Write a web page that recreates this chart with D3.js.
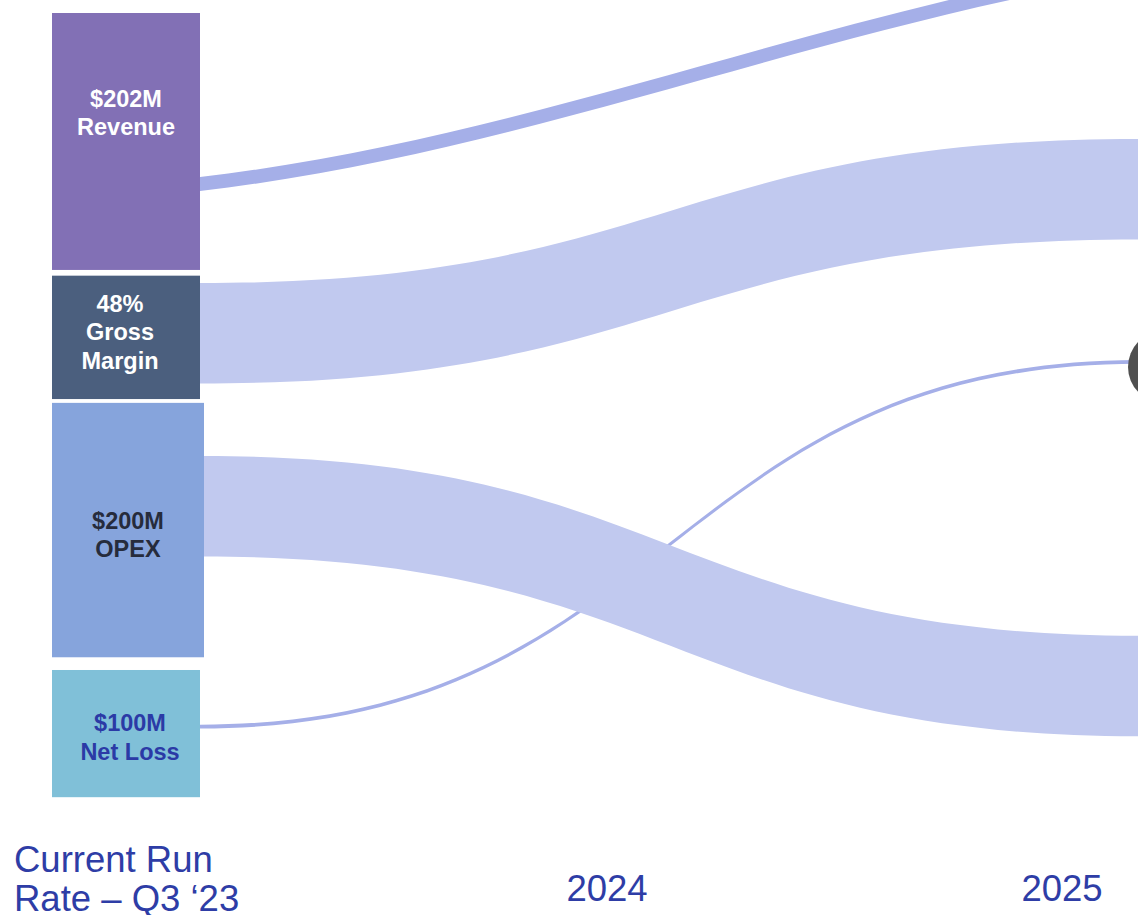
<!DOCTYPE html>
<html>
<head>
<meta charset="utf-8">
<script src="https://cdn.jsdelivr.net/npm/d3@7"></script>
<style>
  body { margin: 0; background: #fff; }
  svg { display: block; }
</style>
</head>
<body>
<svg id="chart"></svg>
<script>
// current run rate boxes ($M, gross margin = 48% of revenue)
const nodeNames = ["Revenue", "Gross Margin", "OPEX", "Net Loss"];
const nodeValues = [202, 97, 200, 100];
const nodeLabels = [["$202M", "Revenue"], ["48%", "Gross", "Margin"], ["$200M", "OPEX"], ["$100M", "Net Loss"]];
const nodeGaps = [0, 4.5, 3, 10];

// flows out to 2025, same $M units
const linkSource = [0, 1, 2, 3];
const linkValues = [11, 79, 79, 3];
const linkSourceOffset = [129, 5.8, 41.8, 43];
const linkTargetTop = [-41, 99, 489.6, 272.8];

const columns = ["current", "2024", "2025"];
const columnLabels = [["Current Run", "Rate \u2013 Q3 \u201823"], ["2024"], ["2025"]];

// styles
const nodeFill = ["#8270b5", "#4b5f7e", "#86a4dc", "#80c0d8"];
const nodeText = ["#ffffff", "#ffffff", "#262c3c", "#2b3aa6"];
const nodeWidth = [148, 148, 152, 148];
const labelPos = [0.39, 0.46, 0.52, 0.53];
const labelDx = [0, -6, 0, 4];
const linkFill = ["#a5afe8", "#c1c9ef", "#c1c9ef", "#a5afe8"];
const linkBend = [
  [0.35, 0.18, 0.65, 0.75],
  [0.5, 0, 0.5, 1],
  [0.5, 0, 0.5, 1],
  [0.5, 0, 0.5, 1]
];
const blue = "#2e3da6";
const font = "'Liberation Sans', Arial, sans-serif";

const width = 1138, height = 915;

const x = d3.scalePoint().domain(columns).range([152, 1062]);
const y = d3.scaleLinear().domain([0, 620]).range([13, 13 + 620 * 1.272]);

const svg = d3.select("#chart")
    .attr("width", width)
    .attr("height", height)
    .style("font-family", font);

// stack the boxes
let acc = 0;
const nodes = nodeNames.map((name, i) => {
  acc += nodeGaps[i];
  const top = acc;
  acc += nodeValues[i];
  return {name, i, top, bottom: acc, x0: x("current") - 100, x1: x("current") - 100 + nodeWidth[i]};
});

const targetX = x("2025") + 78;

const links = linkSource.map((s, i) => ({
  i,
  source: nodes[s],
  s0: nodes[s].top + linkSourceOffset[i],
  s1: nodes[s].top + linkSourceOffset[i] + linkValues[i],
  t0: linkTargetTop[i],
  t1: linkTargetTop[i] + linkValues[i]
}));

function ribbon(d) {
  const [c1x, c1y, c2x, c2y] = linkBend[d.i];
  const x0 = d.source.x1, x1 = targetX, dx = x1 - x0;
  const a0 = y(d.s0), a1 = y(d.s1), b0 = y(d.t0), b1 = y(d.t1);
  const p = d3.path();
  p.moveTo(x0, a0);
  p.bezierCurveTo(x0 + c1x * dx, a0 + c1y * (b0 - a0), x0 + c2x * dx, a0 + c2y * (b0 - a0), x1, b0);
  p.lineTo(x1, b1);
  p.bezierCurveTo(x0 + c2x * dx, a1 + c2y * (b1 - a1), x0 + c1x * dx, a1 + c1y * (b1 - a1), x0, a1);
  p.closePath();
  return p.toString();
}

// thin net-loss line first so the OPEX band sits over it
const order = [3, 0, 1, 2];
svg.append("g")
  .selectAll("path")
  .data(order.map(i => links[i]))
  .join("path")
    .attr("d", ribbon)
    .attr("fill", d => linkFill[d.i]);

// 2025 node the net loss line runs into
const nl = links[3];
svg.append("circle")
    .attr("cx", x("2025") + 102)
    .attr("cy", y((nl.t0 + nl.t1) / 2) + 5)
    .attr("r", 36)
    .attr("fill", "#505050");

const box = svg.append("g")
  .selectAll("g")
  .data(nodes)
  .join("g");

box.append("rect")
    .attr("x", d => d.x0)
    .attr("y", d => y(d.top))
    .attr("width", d => d.x1 - d.x0)
    .attr("height", d => y(d.bottom) - y(d.top))
    .attr("fill", d => nodeFill[d.i]);

box.each(function(d) {
  const lines = nodeLabels[d.i];
  const cy = y(d.top) + (y(d.bottom) - y(d.top)) * labelPos[d.i];
  d3.select(this).selectAll("text")
    .data(lines)
    .join("text")
      .attr("x", (d.x0 + d.x1) / 2 + labelDx[d.i])
      .attr("y", (t, j) => cy + (j - (lines.length - 1) / 2) * 28.5)
      .attr("dominant-baseline", "central")
      .attr("text-anchor", "middle")
      .attr("font-size", 23.5)
      .attr("font-weight", "bold")
      .attr("fill", nodeText[d.i])
      .text(t => t);
});

// column labels along the bottom
const colText = svg.append("g")
    .attr("fill", blue)
    .attr("font-size", 36.5);

colText.append("g")
  .selectAll("text")
  .data(columnLabels[0])
  .join("text")
    .attr("x", 14)
    .attr("y", (t, j) => 872 + j * 38.5)
    .text(t => t);

colText.append("g")
  .selectAll("text")
  .data(columns.slice(1))
  .join("text")
    .attr("x", d => x(d))
    .attr("y", 901)
    .attr("text-anchor", "middle")
    .text((d, i) => columnLabels[i + 1][0]);
</script>
</body>
</html>
